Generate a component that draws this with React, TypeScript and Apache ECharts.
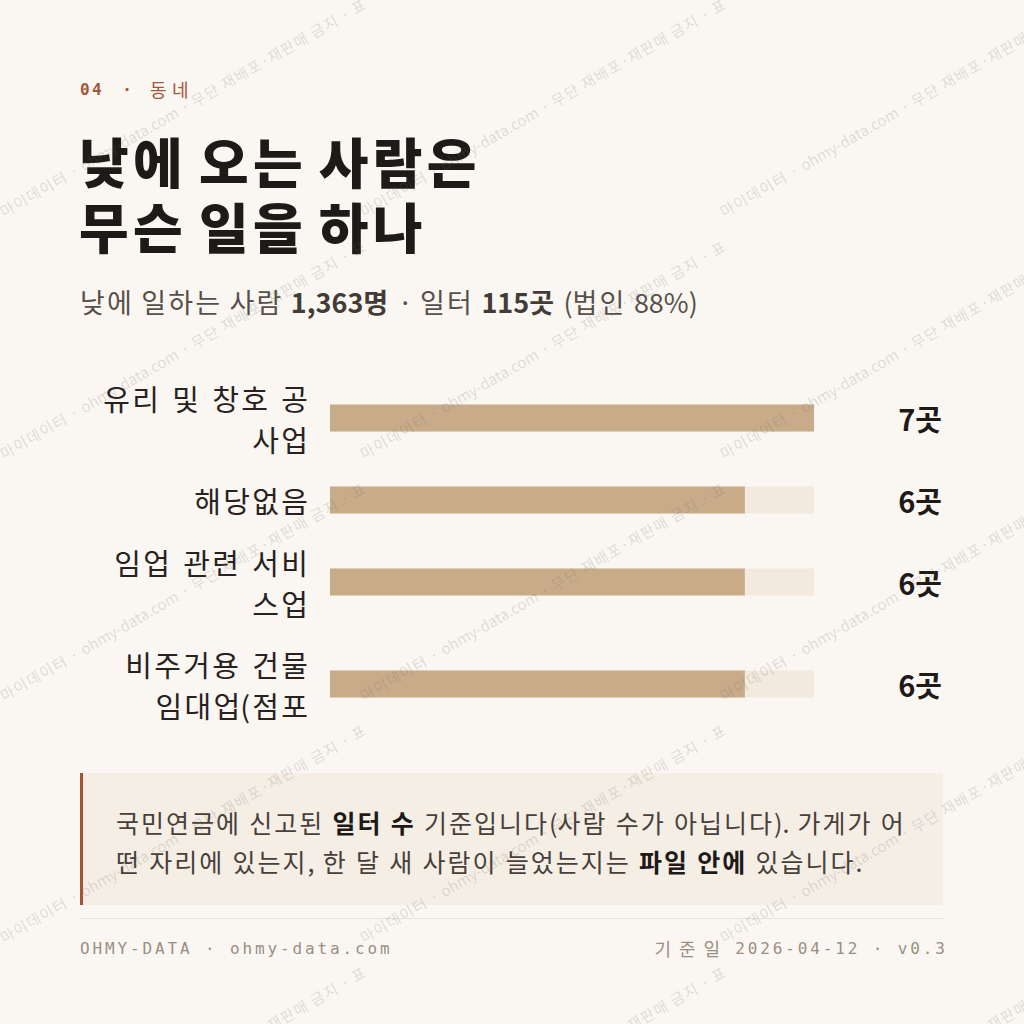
import React, { useEffect, useRef } from "react";
import * as echarts from "echarts";

// ---- data ----
const categories: string[] = [
  "유리 및 창호 공\n사업",
  "해당없음",
  "임업 관련 서비\n스업",
  "비주거용 건물\n임대업(점포",
];
const values: number[] = [7, 6, 6, 6];
const unit = "곳";
const axisMax = 7;

const kicker = { num: "04", sep: "·", name: "동네" };
const titleLines: string[] = ["낮에 오는 사람은", "무슨 일을 하나"];
const subtitleText = "낮에 일하는 사람 {b|1,363명} · 일터 {b|115곳} (법인 88%)";
const noteLines: string[] = [
  "국민연금에 신고된 {b|일터 수} 기준입니다(사람 수가 아닙니다). 가게가 어",
  "떤 자리에 있는지, 한 달 새 사람이 늘었는지는 {b|파일 안에} 있습니다.",
];
const footerLeft = "OHMY-DATA · ohmy-data.com";
const footerRight = "기준일 2026-04-12 · v0.3";
const watermarkText = "마이데이터 · ohmy-data.com · 무단 재배포·재판매 금지 · 표";

// ---- layout / style ----
const rowCenters = [418, 500, 582, 684];
const barH = 27;
const plotLeft = 330;
const plotRight = 814;
const KR = "'Noto Sans CJK KR', 'Noto Sans', sans-serif";
const MONO = "'DejaVu Sans Mono', monospace";
const BG = "#faf7f2";
const ACCENT = "#a7533a";
const INK = "#1e1a17";
const MUTED = "#9a8e82";

const isHangul = (ch: string) => /[\u1100-\u11FF\u3130-\u318F\uAC00-\uD7A3]/.test(ch);

// each character its own fixed-width token (monospace-like letter spacing)
const spaced = (s: string, latinKey: string, cjkKey: string) =>
  s
    .split("")
    .map((ch) => `{${isHangul(ch) ? cjkKey : latinKey}|${ch}}`)
    .join("");

// hangul syllables get a full-em box, spaces a fixed box, other runs natural width
const hangulWide = (s: string, key: string) => {
  let out = "";
  let buf = "";
  const flush = () => {
    if (buf) out += `{${key}|${buf}}`;
    buf = "";
  };
  for (const ch of s) {
    if (isHangul(ch)) {
      flush();
      out += `{${key}h|${ch}}`;
    } else if (ch === " ") {
      flush();
      out += `{${key}s| }`;
    } else buf += ch;
  }
  flush();
  return out;
};

// "{b|...}" markup -> tokens (n* normal, b* bold)
const markup = (s: string) =>
  s
    .split(/(\{b\|[^}]*\})/)
    .filter((p) => p.length)
    .map((p) => {
      const m = p.match(/^\{b\|([^}]*)\}$/);
      return m ? hangulWide(m[1], "b") : hangulWide(p, "n");
    })
    .join("");

const richSet = (
  size: number,
  color: string,
  boldColor: string,
  spaceEm: number,
  extra: any = {},
  normalWeight: any = "normal"
) => {
  const base = (c: string, w: any) => ({
    fontFamily: KR,
    fontSize: size,
    fontWeight: w,
    fill: c,
    color: c,
    ...extra,
  });
  return {
    n: base(color, normalWeight),
    nh: { ...base(color, normalWeight), width: size },
    ns: { ...base(color, normalWeight), width: size * spaceEm },
    b: base(boldColor, "bold"),
    bh: { ...base(boldColor, "bold"), width: size },
    bs: { ...base(boldColor, "bold"), width: size * spaceEm },
  };
};

export default function App() {
  const ref = useRef<HTMLDivElement | null>(null);

  useEffect(() => {
    if (!ref.current) return;
    const chart = echarts.init(ref.current, undefined, { renderer: "svg" });

    const grids: any[] = [];
    const xAxes: any[] = [];
    const yAxes: any[] = [];
    const series: any[] = [];
    const labelRich = richSet(29, "#27221e", "#27221e", 0.38, { lineHeight: 41 });

    categories.forEach((cat, i) => {
      grids.push({
        left: plotLeft,
        width: plotRight - plotLeft,
        top: rowCenters[i] - barH / 2,
        height: barH,
        containLabel: false,
      });
      xAxes.push({
        type: "value",
        gridIndex: i,
        min: 0,
        max: axisMax,
        show: false,
      });
      yAxes.push({
        type: "category",
        gridIndex: i,
        data: [cat],
        axisLine: { show: false },
        axisTick: { show: false },
        splitLine: { show: false },
        axisLabel: {
          fontFamily: KR,
          fontSize: 29,
          lineHeight: 41,
          color: "#27221e",
          align: "right",
          margin: 22,
          formatter: (v: string) =>
            v
              .split("\n")
              .map((line) => hangulWide(line, "n"))
              .join("\n"),
          rich: labelRich,
        },
      });
      yAxes.push({
        type: "category",
        gridIndex: i,
        position: "right",
        data: [`${values[i]}${unit}`],
        axisLine: { show: false },
        axisTick: { show: false },
        splitLine: { show: false },
        axisLabel: {
          fontFamily: KR,
          fontSize: 29,
          fontWeight: "bold",
          color: INK,
          align: "right",
          margin: 128,
        },
      });
      series.push({
        type: "bar",
        xAxisIndex: i,
        yAxisIndex: i * 2,
        data: [values[i]],
        barWidth: barH,
        showBackground: true,
        backgroundStyle: { color: "#f2eade" },
        itemStyle: { color: "#c8ac8a" },
        silent: true,
      });
    });

    const graphics: any[] = [];

    // kicker
    graphics.push({
      type: "text",
      x: 80,
      y: 89,
      style: {
        text: spaced(kicker.num, "m", "h"),
        rich: {
          m: { fontFamily: MONO, fontSize: 16, fontWeight: "bold", fill: ACCENT, width: 12 },
        },
        verticalAlign: "middle",
      },
    });
    graphics.push({
      type: "text",
      x: 127,
      y: 89,
      style: {
        text: kicker.sep,
        font: `bold 16px ${MONO}`,
        fill: ACCENT,
        align: "center",
        verticalAlign: "middle",
      },
    });
    graphics.push({
      type: "text",
      x: 150,
      y: 89,
      style: {
        text: spaced(kicker.name, "m", "h"),
        rich: {
          h: { fontFamily: KR, fontSize: 18, fill: ACCENT, width: 22 },
          m: { fontFamily: MONO, fontSize: 16, fill: ACCENT, width: 12 },
        },
        verticalAlign: "middle",
      },
    });

    // title
    const titleRich = richSet(54, INK, INK, 0.22, { lineHeight: 60 }, 900);
    titleLines.forEach((t, i) => {
      graphics.push({
        type: "text",
        x: 79,
        y: 160 + i * 65,
        style: {
          text: hangulWide(t, "n"),
          rich: titleRich,
          verticalAlign: "middle",
        },
      });
    });

    // subtitle
    graphics.push({
      type: "text",
      x: 80,
      y: 301,
      style: {
        text: markup(subtitleText),
        rich: richSet(27, "#57504a", "#433c36", 0.27),
        verticalAlign: "middle",
      },
    });

    // note box
    graphics.push({
      type: "rect",
      shape: { x: 80, y: 773, width: 863, height: 132 },
      style: { fill: "#f5eee5" },
    });
    graphics.push({
      type: "rect",
      shape: { x: 80, y: 773, width: 3, height: 132 },
      style: { fill: ACCENT },
    });
    noteLines.forEach((t, i) => {
      graphics.push({
        type: "text",
        x: 116,
        y: 822 + i * 39,
        style: {
          text: markup(t),
          rich: richSet(25, "#47403a", INK, 0.33, { lineHeight: 34 }),
          verticalAlign: "middle",
        },
      });
    });

    // divider
    graphics.push({
      type: "line",
      shape: { x1: 80, y1: 918.5, x2: 943, y2: 918.5 },
      style: { stroke: "#e7e1d7", lineWidth: 1 },
    });

    // footer
    const footRich = {
      m: { fontFamily: MONO, fontSize: 16, fill: MUTED, width: 12.5 },
      h: { fontFamily: KR, fontSize: 18, fill: MUTED, width: 24.5 },
    };
    graphics.push({
      type: "text",
      x: 80,
      y: 948,
      style: {
        text: spaced(footerLeft, "m", "h"),
        rich: footRich,
        verticalAlign: "middle",
      },
    });
    graphics.push({
      type: "text",
      x: 945,
      y: 948,
      style: {
        text: spaced(footerRight, "m", "h"),
        rich: footRich,
        align: "right",
        verticalAlign: "middle",
      },
    });

    // watermark
    const wmX = [0, 360, 720];
    const wmY = [212, 454, 696, 938, 1180];
    const wmRich = richSet(15, "rgba(110, 98, 86, 0.2)", "rgba(110, 98, 86, 0.2)", 0.3);
    wmY.forEach((y) =>
      wmX.forEach((x) => {
        graphics.push({
          type: "text",
          x: x + 1,
          y,
          rotation: Math.PI / 6,
          silent: true,
          z: 100,
          style: {
            text: hangulWide(watermarkText, "n"),
            rich: wmRich,
            verticalAlign: "middle",
          },
        });
      })
    );

    chart.setOption({
      animation: false,
      backgroundColor: BG,
      grid: grids,
      xAxis: xAxes,
      yAxis: yAxes,
      series,
      graphic: { elements: graphics },
    });

    return () => chart.dispose();
  }, []);

  return (
    <div
      ref={ref}
      style={{ position: "fixed", left: 0, top: 0, width: 1024, height: 1024 }}
    />
  );
}
